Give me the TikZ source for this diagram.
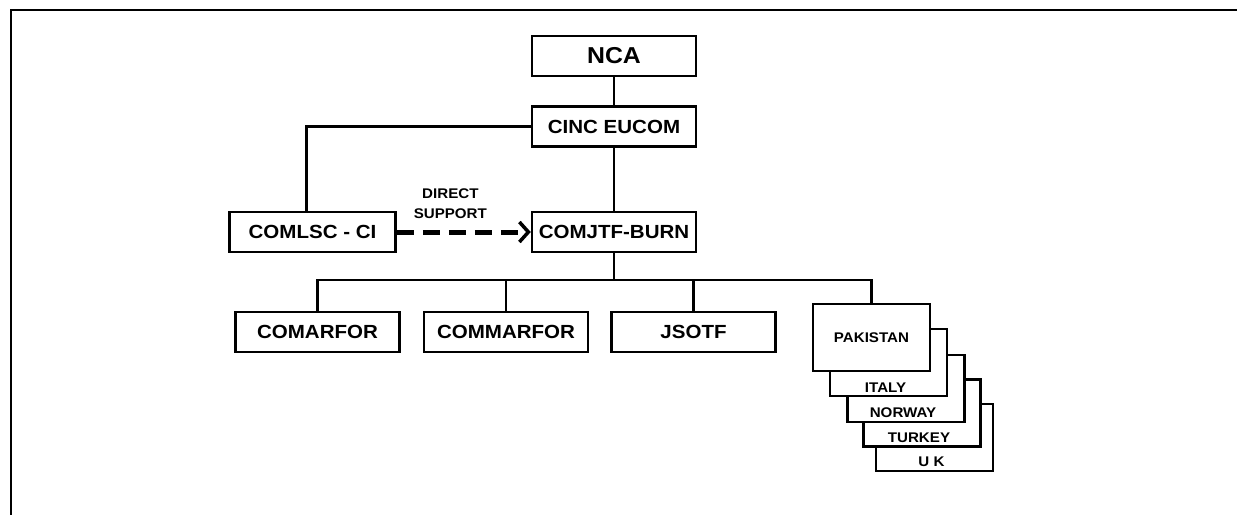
\documentclass[tikz,border=0pt]{standalone}
\usepackage{fontspec}
\setmainfont{Liberation Sans}[FakeStretch=1.08]
\usetikzlibrary{arrows.meta,positioning}

\begin{document}
\begin{tikzpicture}[x=1pt,y=-1pt,
  unit/.style={draw,line width=2.5pt,fill=white,minimum width=164pt,
    minimum height=40pt,inner sep=0pt,font=\fontsize{19}{21}\selectfont\bfseries},
  card/.style={draw,line width=2.5pt,fill=white,minimum width=117pt,
    minimum height=67pt,inner sep=0pt,font=\fontsize{14}{16}\selectfont\bfseries},
  cardname/.style={anchor=south,inner sep=5pt,xshift=-3pt,
    font=\fontsize{14}{16}\selectfont\bfseries},
  link/.style={line width=2.5pt},
  support/.style={line width=5pt,dash pattern=on 17pt off 9pt,
    -{Straight Barb[length=9pt,width=20pt,line width=3.5pt]}},
  note/.style={font=\fontsize{14}{20}\selectfont\bfseries,align=center,inner sep=0pt}
]
\useasboundingbox (0,0) rectangle (1237,515);
\draw[line width=2pt] (1237,10) -- (11,10) -- (11,515);

\node[unit,font=\fontsize{23}{25}\selectfont\bfseries] (nca) at (614,56) {NCA};
\node[unit,below=28pt of nca] (cinc) {CINC EUCOM};
\node[unit,below=63pt of cinc] (comjtf) {COMJTF-BURN};
\node[unit,minimum width=166pt,left=134pt of comjtf] (comlsc) {COMLSC - CI};

\node[unit] (comarfor) at (317.5,332) {COMARFOR};
\node[unit,right=22pt of comarfor] (commarfor) {COMMARFOR};
\node[unit,right=21pt of commarfor] (jsotf) {JSOTF};

% stacked national contingents, back to front
\node[card,label={[cardname]south:U K}] (uk) at (934.5,437.5) {};
\node[card,label={[cardname]south:TURKEY}] (turkey) at (922,413) {};
\node[card,label={[cardname]south:NORWAY}] (norway) at (906,388.5) {};
\node[card,label={[cardname]south:ITALY}] (italy) at (888.5,362.5) {};
\node[card] (pakistan) at (871.5,337.5) {PAKISTAN};

\coordinate (bus) at (comjtf.south |- 0,280);

\draw[link] (nca) -- (cinc);
\draw[link] (cinc) -- (comjtf);
\draw[link] (cinc.west) -| ([xshift=-6pt]comlsc.north);
\draw[support] (comlsc.east) -- (comjtf.west)
  node[note,pos=0.4,above=11pt] {DIRECT\\SUPPORT};
\draw[link] (comjtf) -- (bus);
\draw[link] (comarfor) |- (bus) -| (pakistan);
\draw[link] (commarfor) -- (commarfor |- bus);
\draw[link] (jsotf) -- (jsotf |- bus);
\end{tikzpicture}
\end{document}
